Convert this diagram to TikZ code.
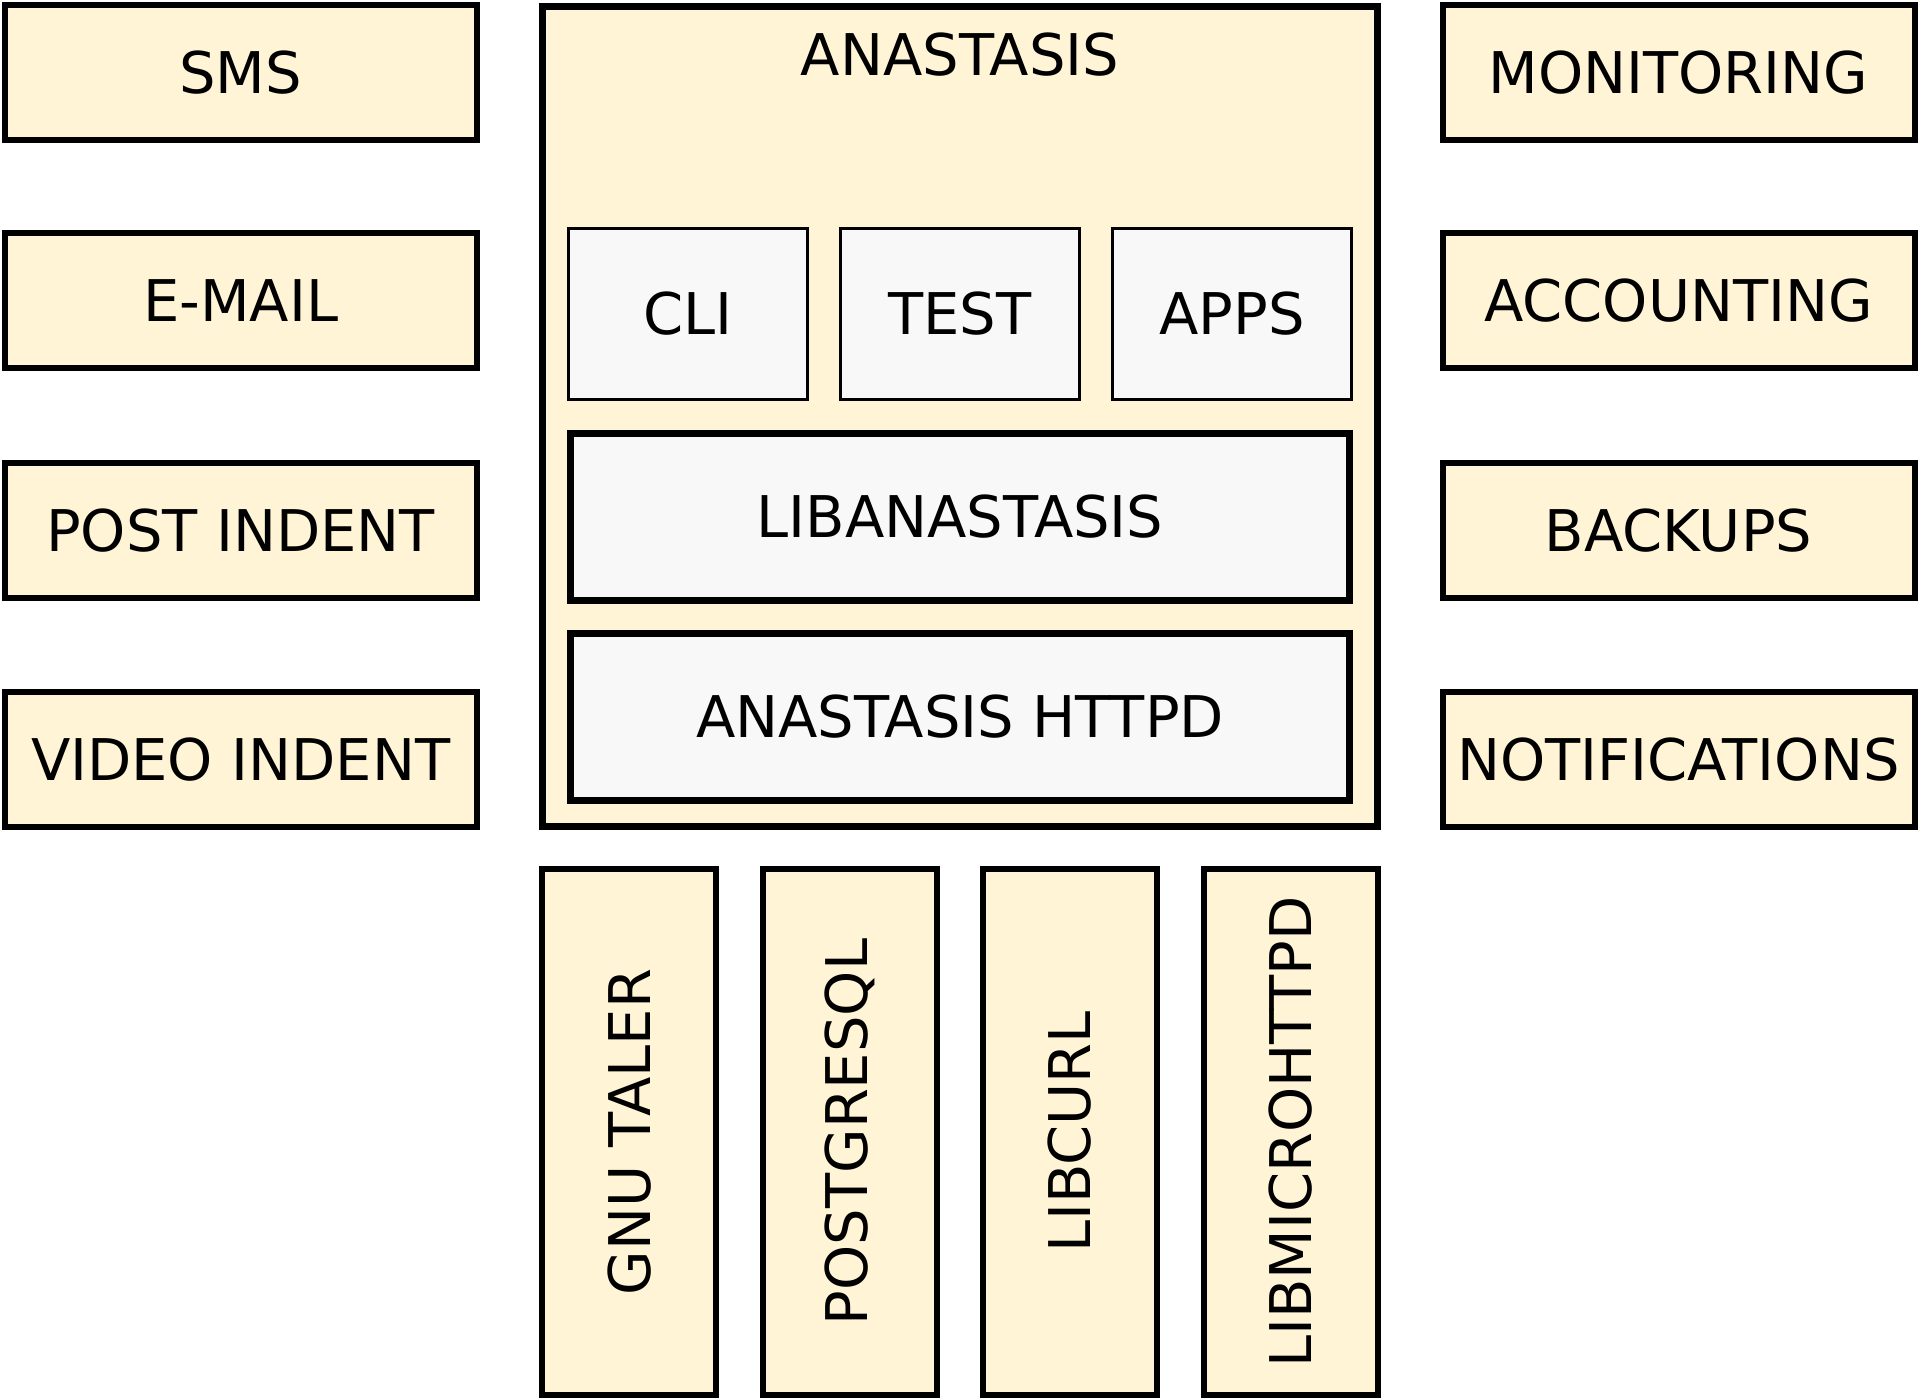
\documentclass[tikz,border=0pt]{standalone}
\usepackage{fontspec}
\setmainfont{DejaVu Sans}
\definecolor{cream}{HTML}{FFF5D6}
\definecolor{paleg}{HTML}{F8F8F8}
\begin{document}
\begin{tikzpicture}[x=1pt,y=-1pt,
  every node/.style={font=\fontsize{57.5}{69}\selectfont, inner sep=0pt, outer sep=0pt},
  sidebox/.style={draw=black, fill=cream, line width=6pt, minimum width=472pt, minimum height=135pt},
  outerbox/.style={draw=black, fill=cream, line width=7pt, minimum width=835pt, minimum height=820pt},
  toolbox/.style={draw=black, fill=paleg, line width=3.5pt, minimum width=239pt, minimum height=171pt},
  layerbox/.style={draw=black, fill=paleg, line width=7pt, minimum width=779pt, minimum height=167pt},
  depbox/.style={draw=black, fill=cream, line width=6pt, minimum width=526pt, minimum height=174pt, rotate=90}
]
\useasboundingbox (0,0) rectangle (1920,1400);
% left column
\node[sidebox] (sms) at (240.6,72.2) {SMS};
\node[sidebox] (email) at (240.6,300.6) {E-MAIL};
\node[sidebox] (post) at (240.6,530.2) {POST INDENT};
\node[sidebox] (video) at (240.6,759.2) {VIDEO INDENT};
% right column
\node[sidebox] (mon) at (1678.5,72.2) {MONITORING};
\node[sidebox] (acc) at (1678.5,300.6) {ACCOUNTING};
\node[sidebox] (back) at (1678.5,530.2) {BACKUPS};
\node[sidebox] (notif) at (1678.5,759.2) {NOTIFICATIONS};
% central
\node[outerbox] (anastasis) at (960,416.3) {};
\node (title) at (960,55) {ANASTASIS};
\node[toolbox] (cli) at (688,314) {CLI};
\node[toolbox] (test) at (960,314) {TEST};
\node[toolbox] (apps) at (1232,314) {APPS};
\node[layerbox] (lib) at (960,517) {LIBANASTASIS};
\node[layerbox] (httpd) at (960,716.5) {ANASTASIS HTTPD};
% dependencies
\node[depbox] (taler) at (629.3,1132) {GNU TALER};
\node[depbox] (pg) at (849.8,1132) {POSTGRESQL};
\node[depbox] (curl) at (1070,1132) {LIBCURL};
\node[depbox] (mhd) at (1290.5,1132) {LIBMICROHTTPD};
\end{tikzpicture}
\end{document}
